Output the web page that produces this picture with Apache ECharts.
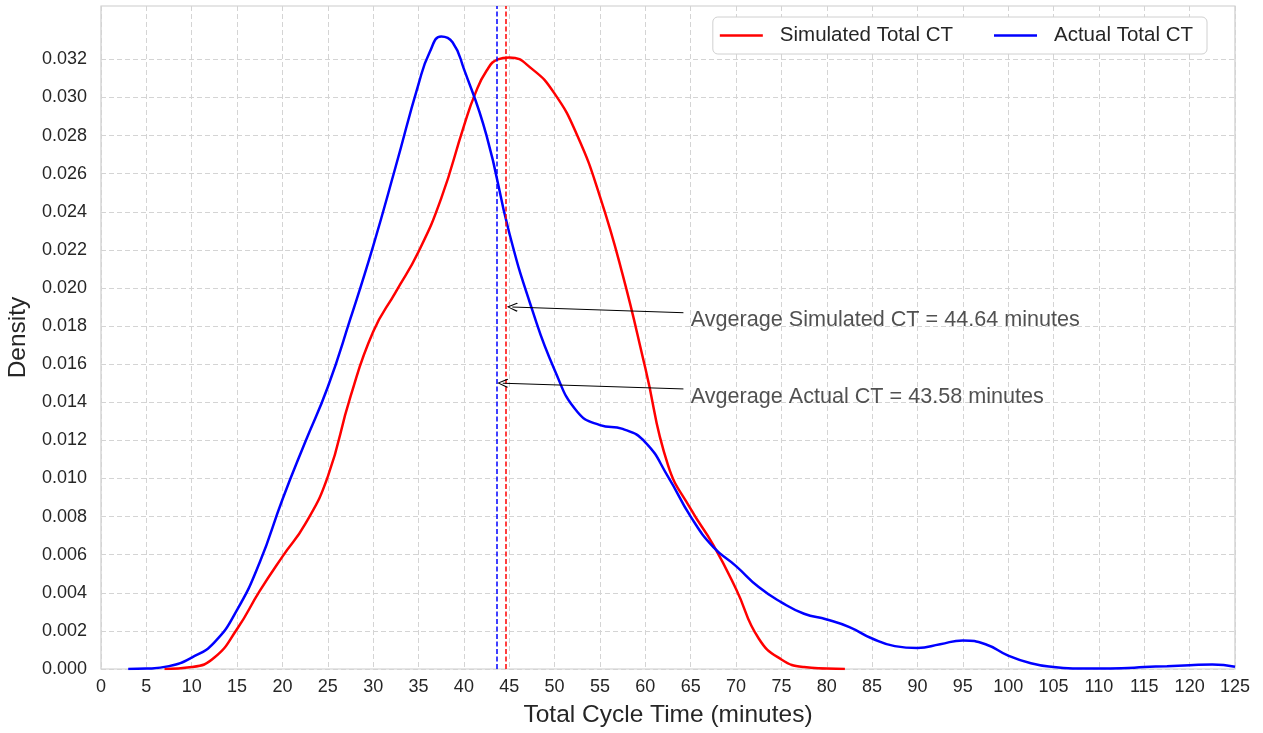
<!DOCTYPE html>
<html>
<head>
<meta charset="utf-8">
<title>Total Cycle Time density</title>
<script src="https://cdn.jsdelivr.net/npm/echarts@6/dist/echarts.min.js"></script>
<style>
  html, body { margin: 0; padding: 0; background: #fff; }
  #chart { width: 1263px; height: 733px; }
</style>
</head>
<body>
<div id="chart"></div>
<script>
// simulated total CT density curve
const simX = [7, 10, 12.5, 15, 17.5, 20, 22.5, 25, 27.5, 30, 32.5, 35, 37.5, 40, 41.25, 42.5, 43.75, 45, 47.5, 50, 52.5, 55, 57.5, 60, 62.5, 65, 67.5, 70, 72.5, 75, 77.5, 80, 82]
const simY = [0, 0.0001, 0.0006, 0.0021, 0.0041, 0.0059, 0.0076, 0.0101, 0.0143, 0.0177, 0.0198, 0.0219, 0.0247, 0.0285, 0.0302, 0.0314, 0.032, 0.0321, 0.0315, 0.0302, 0.028, 0.0248, 0.0207, 0.0158, 0.0107, 0.0084, 0.0065, 0.0042, 0.0016, 0.0005, 0.0001, 0.00003, 0]

// actual total CT density curve
const actX = [3, 5, 7.5, 10, 12.5, 15, 17.5, 20, 22.5, 25, 27.5, 30, 32.5, 35, 36.25, 37.5, 38.75, 40, 42.5, 45, 47.5, 50, 52.5, 55, 57.5, 60, 62.5, 65, 67.5, 70, 72.5, 75, 77.5, 80, 82.5, 85, 87.5, 90, 92.5, 95, 97.5, 100, 102.5, 105, 107.5, 110, 112.5, 115, 117.5, 120, 122.5, 125]
const actY = [0, 0.00002, 0.00015, 0.0006, 0.0014, 0.0031, 0.0056, 0.0089, 0.0119, 0.0148, 0.0184, 0.0222, 0.0264, 0.0307, 0.0324, 0.0332, 0.0329, 0.0315, 0.028, 0.0229, 0.0189, 0.0157, 0.0135, 0.0128, 0.0126, 0.0119, 0.0101, 0.008, 0.0064, 0.0054, 0.0043, 0.0035, 0.0029, 0.0026, 0.0022, 0.0016, 0.0012, 0.0011, 0.0013, 0.0015, 0.0013, 0.0007, 0.0003, 0.0001, 0.00003, 0.00002, 0.00004, 0.0001, 0.00015, 0.0002, 0.00024, 0.00012]

// means
const simMean = 44.64
const actMean = 43.58

// y tick labels
const yTicks = [0, 0.002, 0.004, 0.006, 0.008, 0.01, 0.012, 0.014, 0.016, 0.018, 0.02, 0.022, 0.024, 0.026, 0.028, 0.03, 0.032]

// annotations: arrow tail, arrow tip (+0.7 so the head's point lands on the line), text anchor
const simNote = { text: 'Avgerage Simulated CT = 44.64 minutes', from: [64.2, 0.0187], to: [simMean + 0.7, 0.019], at: [65, 0.0183] }
const actNote = { text: 'Avgerage Actual CT = 43.58 minutes', from: [64.2, 0.0147], to: [actMean + 0.7, 0.015], at: [65, 0.0143] }

const font = "'Liberation Sans', Arial, sans-serif"
const ink = '#262626'
const arrowHead = 'path://M5,0 L10,9 L9,10 L5,2 L1,10 L0,9 Z'

const chart = echarts.init(document.getElementById('chart'))

const option = {
  animation: false,
  backgroundColor: '#fff',
  grid: {
    left: 101,
    right: 28,
    top: 6,
    bottom: 64,
    outerBoundsMode: 'none',
    show: true,
    borderColor: '#cccccc',
    borderWidth: 1.2,
    backgroundColor: '#fff',
  },
  legend: {
    data: ['Simulated Total CT', 'Actual Total CT'],
    right: 56,
    top: 17,
    icon: 'rect',
    itemWidth: 43,
    itemHeight: 2.5,
    itemGap: 41,
    padding: [8, 14, 8, 7],
    borderColor: '#d0d0d0',
    borderWidth: 1,
    borderRadius: 5,
    backgroundColor: '#fff',
    textStyle: {
      fontFamily: font,
      fontSize: 20.5,
      color: ink,
      padding: [0, 0, 0, 12],
    },
  },
  xAxis: {
    type: 'value',
    min: 0,
    max: 125,
    interval: 5,
    name: 'Total Cycle Time (minutes)',
    nameLocation: 'middle',
    nameGap: 34,
    nameTextStyle: { fontFamily: font, fontSize: 24.5, color: ink },
    axisLine: { show: false },
    axisTick: { show: false },
    axisLabel: { fontFamily: font, fontSize: 18, color: ink, margin: 9 },
    splitLine: { show: true, lineStyle: { color: '#d4d4d4', type: [5, 3], width: 1 } },
  },
  yAxis: {
    type: 'value',
    min: 0,
    max: 0.0348,
    name: 'Density',
    nameLocation: 'middle',
    nameGap: 66,
    nameTextStyle: { fontFamily: font, fontSize: 24.5, color: ink },
    axisLine: { show: false },
    axisTick: { show: false, customValues: yTicks },
    axisLabel: {
      customValues: yTicks,
      fontFamily: font,
      fontSize: 18,
      color: ink,
      margin: 14,
      formatter: (v) => v.toFixed(3),
    },
    splitLine: { show: true, lineStyle: { color: '#d4d4d4', type: [5, 3], width: 1 } },
  },
  series: [
    {
      name: 'Simulated Total CT',
      type: 'line',
      data: simX.map((x, i) => [x, simY[i]]),
      smooth: 0.5,
      showSymbol: false,
      color: '#ff0000',
      lineStyle: { color: '#ff0000', width: 2.5 },
      z: 3,
    },
    {
      name: 'Actual Total CT',
      type: 'line',
      data: actX.map((x, i) => [x, actY[i]]),
      smooth: 0.5,
      showSymbol: false,
      color: '#0000ff',
      lineStyle: { color: '#0000ff', width: 2.5 },
      z: 4,
    },
    {
      // annotations and mean lines
      name: 'notes',
      type: 'scatter',
      silent: true,
      symbolSize: 0,
      z: 5,
      data: [
        { value: simNote.at, label: { formatter: simNote.text } },
        { value: actNote.at, label: { formatter: actNote.text } },
      ],
      label: {
        show: true,
        position: 'right',
        distance: 0,
        fontFamily: font,
        fontSize: 21.6,
        color: ink,
      },
      markLine: {
        silent: true,
        animation: false,
        label: { show: false },
        symbol: ['none', 'none'],
        data: [
          [
            { xAxis: actMean, yAxis: 0, lineStyle: { color: 'rgba(0,0,255,0.75)', width: 2, type: [5, 2.5] } },
            { xAxis: actMean, yAxis: 0.0348 },
          ],
          [
            { xAxis: simMean, yAxis: 0, lineStyle: { color: 'rgba(255,0,0,0.75)', width: 2, type: [5, 2.5] } },
            { xAxis: simMean, yAxis: 0.0348 },
          ],
          [
            { coord: simNote.from, symbol: 'none', lineStyle: { color: '#000', width: 1, type: 'solid' } },
            { coord: simNote.to, symbol: arrowHead, symbolSize: [9, 11] },
          ],
          [
            { coord: actNote.from, symbol: 'none', lineStyle: { color: '#000', width: 1, type: 'solid' } },
            { coord: actNote.to, symbol: arrowHead, symbolSize: [9, 11] },
          ],
        ],
      },
    },
  ],
}

option && chart.setOption(option)
</script>
</body>
</html>
